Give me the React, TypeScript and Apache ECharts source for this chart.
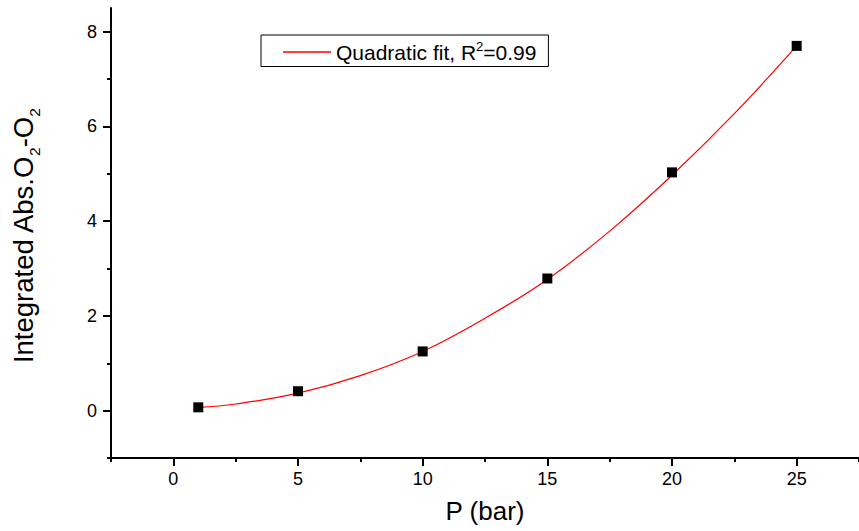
import React, { useEffect, useRef } from 'react';
import * as echarts from 'echarts';

// Measured points
const pressure = [1, 5, 10, 15, 20, 25];
const absorbance = [0.07, 0.41, 1.25, 2.79, 5.03, 7.7];
// Quadratic fit curve
const fitX = [1, 2.5, 5, 7.5, 10, 12.5, 15, 17.5, 20, 22.5, 25];
const fitY = [0.07, 0.14, 0.37, 0.74, 1.25, 1.95, 2.77, 3.79, 4.97, 6.27, 7.7];
// Ticks
const xMajorTicks = [0, 5, 10, 15, 20, 25];
const xMinorTicks = [-2.5, 2.5, 7.5, 12.5, 17.5, 22.5, 27.5];
const yMajorTicks = [0, 2, 4, 6, 8];
const yMinorTicks = [-1, 1, 3, 5, 7];

const FONT = 'Arial, "Liberation Sans", Helvetica, sans-serif';

export default function App() {
  const ref = useRef<HTMLDivElement>(null);
  useEffect(() => {
    if (!ref.current) return;
    const chart = echarts.init(ref.current, undefined, { renderer: 'svg' });
    const axisColor = '#000';
    const mkX = (major: boolean) => ({
      type: 'value',
      min: -2.5,
      max: 27.5,
      position: 'bottom',
      axisLine: { show: major, onZero: false, lineStyle: { color: axisColor, width: 2 } },
      axisTick: {
        show: true,
        inside: false,
        length: major ? 8 : 4,
        customValues: major ? xMajorTicks : xMinorTicks,
        lineStyle: { color: axisColor, width: 2 },
      },
      axisLabel: major
        ? { show: true, customValues: xMajorTicks, fontSize: 18, color: '#000', fontFamily: FONT, margin: 12 }
        : { show: false },
      splitLine: { show: false },
      ...(major
        ? {
            name: 'P (bar)',
            nameLocation: 'middle',
            nameGap: 40,
            nameTextStyle: { fontSize: 26, color: '#000', fontFamily: FONT },
          }
        : {}),
    });
    const mkY = (major: boolean) => ({
      type: 'value',
      min: -1,
      max: 8.5,
      position: 'left',
      axisLine: { show: major, onZero: false, lineStyle: { color: axisColor, width: 2 } },
      axisTick: {
        show: true,
        inside: false,
        length: major ? 8 : 4,
        customValues: major ? yMajorTicks : yMinorTicks,
        lineStyle: { color: axisColor, width: 2 },
      },
      axisLabel: major
        ? { show: true, customValues: yMajorTicks, fontSize: 18, color: '#000', fontFamily: FONT, margin: 14 }
        : { show: false },
      splitLine: { show: false },
    });

    chart.setOption({
      animation: false,
      backgroundColor: '#fff',
      grid: { left: 111, top: 8, right: -6, bottom: 73, containLabel: false },
      xAxis: [mkX(true), mkX(false)],
      yAxis: [mkY(true), mkY(false)],
      legend: {
        data: [{ name: 'Quadratic fit', icon: 'rect' }],
        left: 261,
        top: 35,
        orient: 'horizontal',
        borderColor: '#000',
        borderWidth: 1,
        padding: [5, 12, 4, 22],
        itemWidth: 48,
        itemHeight: 1.3,
        formatter: () => '{m|Quadratic fit, R}{p|2}{m|=0.99}',
        textStyle: {
          color: '#000',
          fontFamily: FONT,
          rich: {
            m: { fontSize: 21, lineHeight: 24, fontFamily: FONT, color: '#000' },
            p: { fontSize: 13, lineHeight: 16, verticalAlign: 'top', fontFamily: FONT, color: '#000' },
          },
        },
      },
      graphic: [
        {
          type: 'text',
          x: 26,
          y: 236,
          rotation: Math.PI / 2,
          style: {
            text: '{m|Integrated Abs.O}{s|2}{m|-O}{s|2}',
            align: 'center',
            verticalAlign: 'middle',
            fill: '#000',
            rich: {
              m: { fontSize: 27.5, lineHeight: 28, verticalAlign: 'top', fontFamily: FONT, fill: '#000' },
              s: { fontSize: 15.5, lineHeight: 33, verticalAlign: 'bottom', fontFamily: FONT, fill: '#000' },
            },
          },
        },
      ],
      series: [
        {
          name: 'Quadratic fit',
          type: 'line',
          xAxisIndex: 0,
          yAxisIndex: 0,
          data: fitX.map((x, i) => [x, fitY[i]]),
          smooth: 0.4,
          symbol: 'none',
          lineStyle: { color: '#ff0000', width: 1.2 },
          itemStyle: { color: '#ff0000' },
          z: 2,
        },
        {
          name: 'Data',
          type: 'scatter',
          xAxisIndex: 0,
          yAxisIndex: 0,
          data: pressure.map((x, i) => [x, absorbance[i]]),
          symbol: 'rect',
          symbolSize: 10,
          itemStyle: { color: '#000', opacity: 1 },
          z: 3,
        },
      ],
    });
    return () => chart.dispose();
  }, []);
  return (
    <div
      ref={ref}
      style={{ position: 'absolute', left: 0, top: 0, width: 859, height: 531, background: '#fff' }}
    />
  );
}
